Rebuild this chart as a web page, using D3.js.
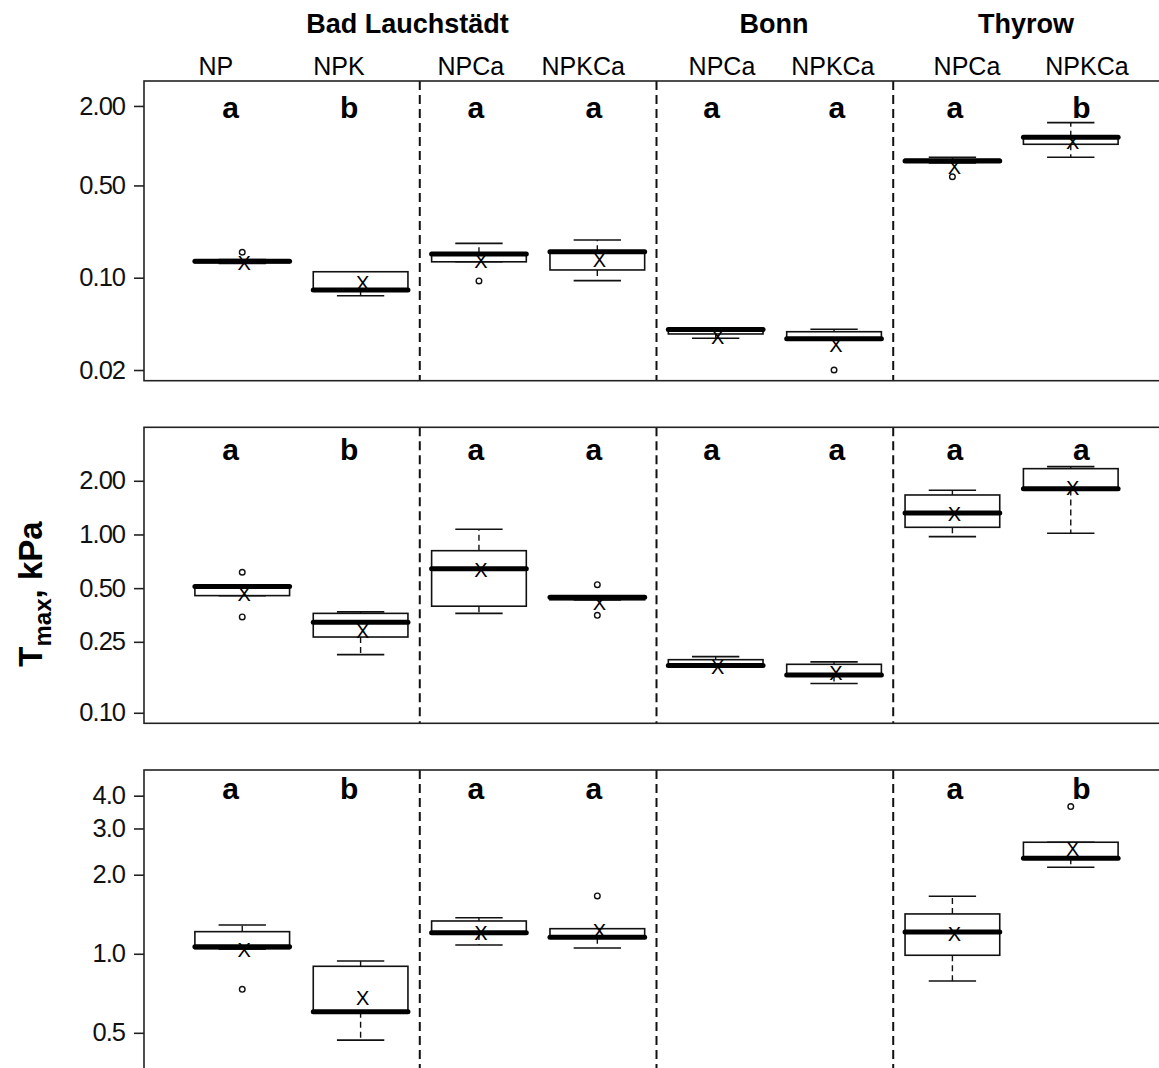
<!DOCTYPE html>
<html>
<head>
<meta charset="utf-8">
<script src="https://cdn.jsdelivr.net/npm/d3@7"></script>
<style>
  html, body { margin: 0; padding: 0; background: #fff; }
  svg { display: block; font-family: "Liberation Sans", Arial, Helvetica, sans-serif; }
</style>
</head>
<body>
<script>
// ---- data ---------------------------------------------------------------
const sites = ["Bad Lauchstädt", "Bonn", "Thyrow"];
const treatments = ["NP", "NPK", "NPCa", "NPKCa", "NPCa", "NPKCa", "NPCa", "NPKCa"];

// five-number summaries per treatment: [lower whisker, Q1, median, Q3, upper whisker]
const row1Box = [
  [0.128, 0.130, 0.133, 0.135, 0.137],
  [0.0731, 0.0807, 0.0807, 0.111, 0.111],
  [0.132, 0.132, 0.151, 0.153, 0.182],
  [0.095, 0.1145, 0.157, 0.159, 0.193],
  [0.0348, 0.0375, 0.0405, 0.0412, 0.0415],
  [0.0340, 0.0345, 0.0345, 0.0390, 0.0407],
  [0.74, 0.75, 0.766, 0.79, 0.818],
  [0.818, 1.025, 1.16, 1.17, 1.494]
];
const row1Mean = [0.130, 0.0917, 0.133, 0.136, 0.0358, 0.0309, 0.686, 1.073];
const row1Out = [[0.156], [], [0.0945], [], [], [0.020], [0.582], []];
const row1Letters = ["a", "b", "a", "a", "a", "a", "a", "b"];
const row1Ticks = [0.02, 0.1, 0.5, 2];
const row1TickLabels = ["0.02", "0.10", "0.50", "2.00"];

const row2Box = [
  [0.454, 0.454, 0.510, 0.515, 0.515],
  [0.212, 0.266, 0.322, 0.361, 0.368],
  [0.361, 0.396, 0.643, 0.811, 1.069],
  [0.429, 0.430, 0.444, 0.447, 0.447],
  [0.182, 0.183, 0.184, 0.1985, 0.2064],
  [0.146, 0.162, 0.163, 0.187, 0.193],
  [0.972, 1.097, 1.320, 1.665, 1.770],
  [1.016, 1.79, 1.807, 2.339, 2.40]
];
const row2Mean = [0.464, 0.289, 0.632, 0.411, 0.181, 0.1665, 1.298, 1.815];
const row2Out = [[0.614, 0.345], [], [], [0.523, 0.352], [], [], [], []];
const row2Letters = ["a", "b", "a", "a", "a", "a", "a", "a"];
const row2Ticks = [0.1, 0.25, 0.5, 1, 2];
const row2TickLabels = ["0.10", "0.25", "0.50", "1.00", "2.00"];

const row3Box = [
  [1.04, 1.045, 1.064, 1.214, 1.287],
  [0.469, 0.602, 0.602, 0.896, 0.939],
  [1.080, 1.19, 1.203, 1.333, 1.372],
  [1.052, 1.15, 1.156, 1.246, 1.246],
  null,
  null,
  [0.788, 0.987, 1.211, 1.418, 1.656],
  [2.135, 2.31, 2.311, 2.659, 2.659]
];
const row3Mean = [1.034, 0.677, 1.197, 1.225, null, null, 1.187, 2.507];
const row3Out = [[0.732], [], [], [1.661], [], [], [], [3.634]];
const row3Letters = ["a", "b", "a", "a", "", "", "a", "b"];
const row3Ticks = [0.5, 1, 2, 3, 4];
const row3TickLabels = ["0.5", "1.0", "2.0", "3.0", "4.0"];

// ---- layout -------------------------------------------------------------
const W = 1159, H = 1068;
const rows = [
  { box: row1Box, mean: row1Mean, out: row1Out, letters: row1Letters,
    ticks: row1Ticks, tickLabels: row1TickLabels,
    top: 81, bottom: 380.7, domain: [0.0166, 3.09], letterDy: 37.3 },
  { box: row2Box, mean: row2Mean, out: row2Out, letters: row2Letters,
    ticks: row2Ticks, tickLabels: row2TickLabels,
    top: 427.3, bottom: 723.3, domain: [0.0873, 3.99], letterDy: 32.7 },
  { box: row3Box, mean: row3Mean, out: row3Out, letters: row3Letters,
    ticks: row3Ticks, tickLabels: row3TickLabels,
    top: 770, bottom: 1072, domain: [0.3546, 5.01], letterDy: 29 }
];

// horizontal positions (in treatment units, 1..8) for the text above the plots
const siteLabelAt = [2.396, 5.493, 7.622];
const treatmentLabelAt = [0.777, 1.817, 2.931, 3.881, 5.053, 5.99, 7.123, 8.137];
const letterAt = [0.902, 1.904, 2.974, 3.971, 4.965, 6.023, 7.02, 8.09];
const dividers = [2.5, 4.5, 6.5];

const x = d3.scaleLinear().domain([0.17, 8.83]).range([144, 1169]);

const svg = d3.select("body").append("svg")
  .attr("width", W).attr("height", H)
  .attr("viewBox", `0 0 ${W} ${H}`);

// site headers
svg.append("g").selectAll("text")
  .data(sites).join("text")
  .attr("x", (d, i) => x(siteLabelAt[i]))
  .attr("y", 33.3)
  .attr("text-anchor", "middle")
  .attr("font-size", 27).attr("font-weight", "bold")
  .text(d => d);

// treatment labels
svg.append("g").selectAll("text")
  .data(treatments).join("text")
  .attr("x", (d, i) => x(treatmentLabelAt[i]))
  .attr("y", 75)
  .attr("text-anchor", "middle")
  .attr("font-size", 25)
  .text(d => d);

// y-axis title: T_max, kPa
const title = svg.append("text")
  .attr("transform", "translate(42,594) rotate(-90)")
  .attr("text-anchor", "middle")
  .attr("font-size", 33).attr("font-weight", "bold");
title.append("tspan").text("T");
title.append("tspan").attr("dy", 9).attr("font-size", 24).text("max");
title.append("tspan").attr("dy", -9).text(", kPa");

rows.forEach(r => {
  const y = d3.scaleLog().domain(r.domain).range([r.bottom, r.top]);
  const g = svg.append("g");

  // dashed site dividers
  g.selectAll("line.div").data(dividers).join("line")
    .attr("x1", d => x(d)).attr("x2", d => x(d))
    .attr("y1", r.top).attr("y2", r.bottom)
    .attr("stroke", "#111").attr("stroke-width", 2)
    .attr("stroke-dasharray", "9,5");

  // boxplots
  r.box.forEach((b, i) => {
    if (!b) return;
    const [lo, q1, med, q3, hi] = b;
    const p = i + 1;
    const cx = x(p);
    const bg = g.append("g");
    // whiskers (dashed) and staples
    [[q3, hi], [q1, lo]].forEach(([a, c]) => {
      if (a !== c) {
        bg.append("line")
          .attr("x1", cx).attr("x2", cx)
          .attr("y1", y(a)).attr("y2", y(c))
          .attr("stroke", "#111").attr("stroke-width", 1.4)
          .attr("stroke-dasharray", "6,4");
      }
      bg.append("line")
        .attr("x1", x(p - 0.2)).attr("x2", x(p + 0.2))
        .attr("y1", y(c)).attr("y2", y(c))
        .attr("stroke", "#111").attr("stroke-width", 1.6);
    });
    // box
    bg.append("rect")
      .attr("x", x(p - 0.4)).attr("width", x(p + 0.4) - x(p - 0.4))
      .attr("y", y(q3)).attr("height", Math.max(0, y(q1) - y(q3)))
      .attr("fill", "#fff").attr("stroke", "#111").attr("stroke-width", 1.6);
    // median
    bg.append("line")
      .attr("x1", x(p - 0.4)).attr("x2", x(p + 0.4))
      .attr("y1", y(med)).attr("y2", y(med))
      .attr("stroke", "#000").attr("stroke-width", 5)
      .attr("stroke-linecap", "round");
    // outliers
    bg.selectAll("circle").data(r.out[i]).join("circle")
      .attr("cx", cx).attr("cy", d => y(d)).attr("r", 2.8)
      .attr("fill", "none").attr("stroke", "#111").attr("stroke-width", 1.4);
    // mean marker
    if (r.mean[i] != null) {
      bg.append("text")
        .attr("x", cx + 2).attr("y", y(r.mean[i]))
        .attr("text-anchor", "middle").attr("dominant-baseline", "central")
        .attr("font-size", 20)
        .text("X");
    }
  });

  // significance letters
  g.selectAll("text.let").data(r.letters).join("text")
    .attr("x", (d, i) => x(letterAt[i]))
    .attr("y", r.top + r.letterDy)
    .attr("text-anchor", "middle")
    .attr("font-size", 30).attr("font-weight", "bold")
    .text(d => d);

  // frame
  g.append("rect")
    .attr("x", x.range()[0]).attr("y", r.top)
    .attr("width", x.range()[1] - x.range()[0]).attr("height", r.bottom - r.top)
    .attr("fill", "none").attr("stroke", "#222").attr("stroke-width", 1.6);

  // log y axis
  const axis = d3.axisLeft(y)
    .tickValues(r.ticks)
    .tickFormat((d, i) => r.tickLabels[i])
    .tickSize(10).tickPadding(9);
  const ag = g.append("g").attr("transform", `translate(${x.range()[0]},0)`).call(axis);
  ag.select(".domain").remove();
  ag.selectAll(".tick line").attr("stroke", "#222").attr("stroke-width", 1.6);
  ag.selectAll(".tick text")
    .attr("font-family", "'Liberation Sans', Arial, sans-serif")
    .attr("font-size", 25.5).attr("letter-spacing", "-1px").attr("fill", "#111");
});
</script>
</body>
</html>
